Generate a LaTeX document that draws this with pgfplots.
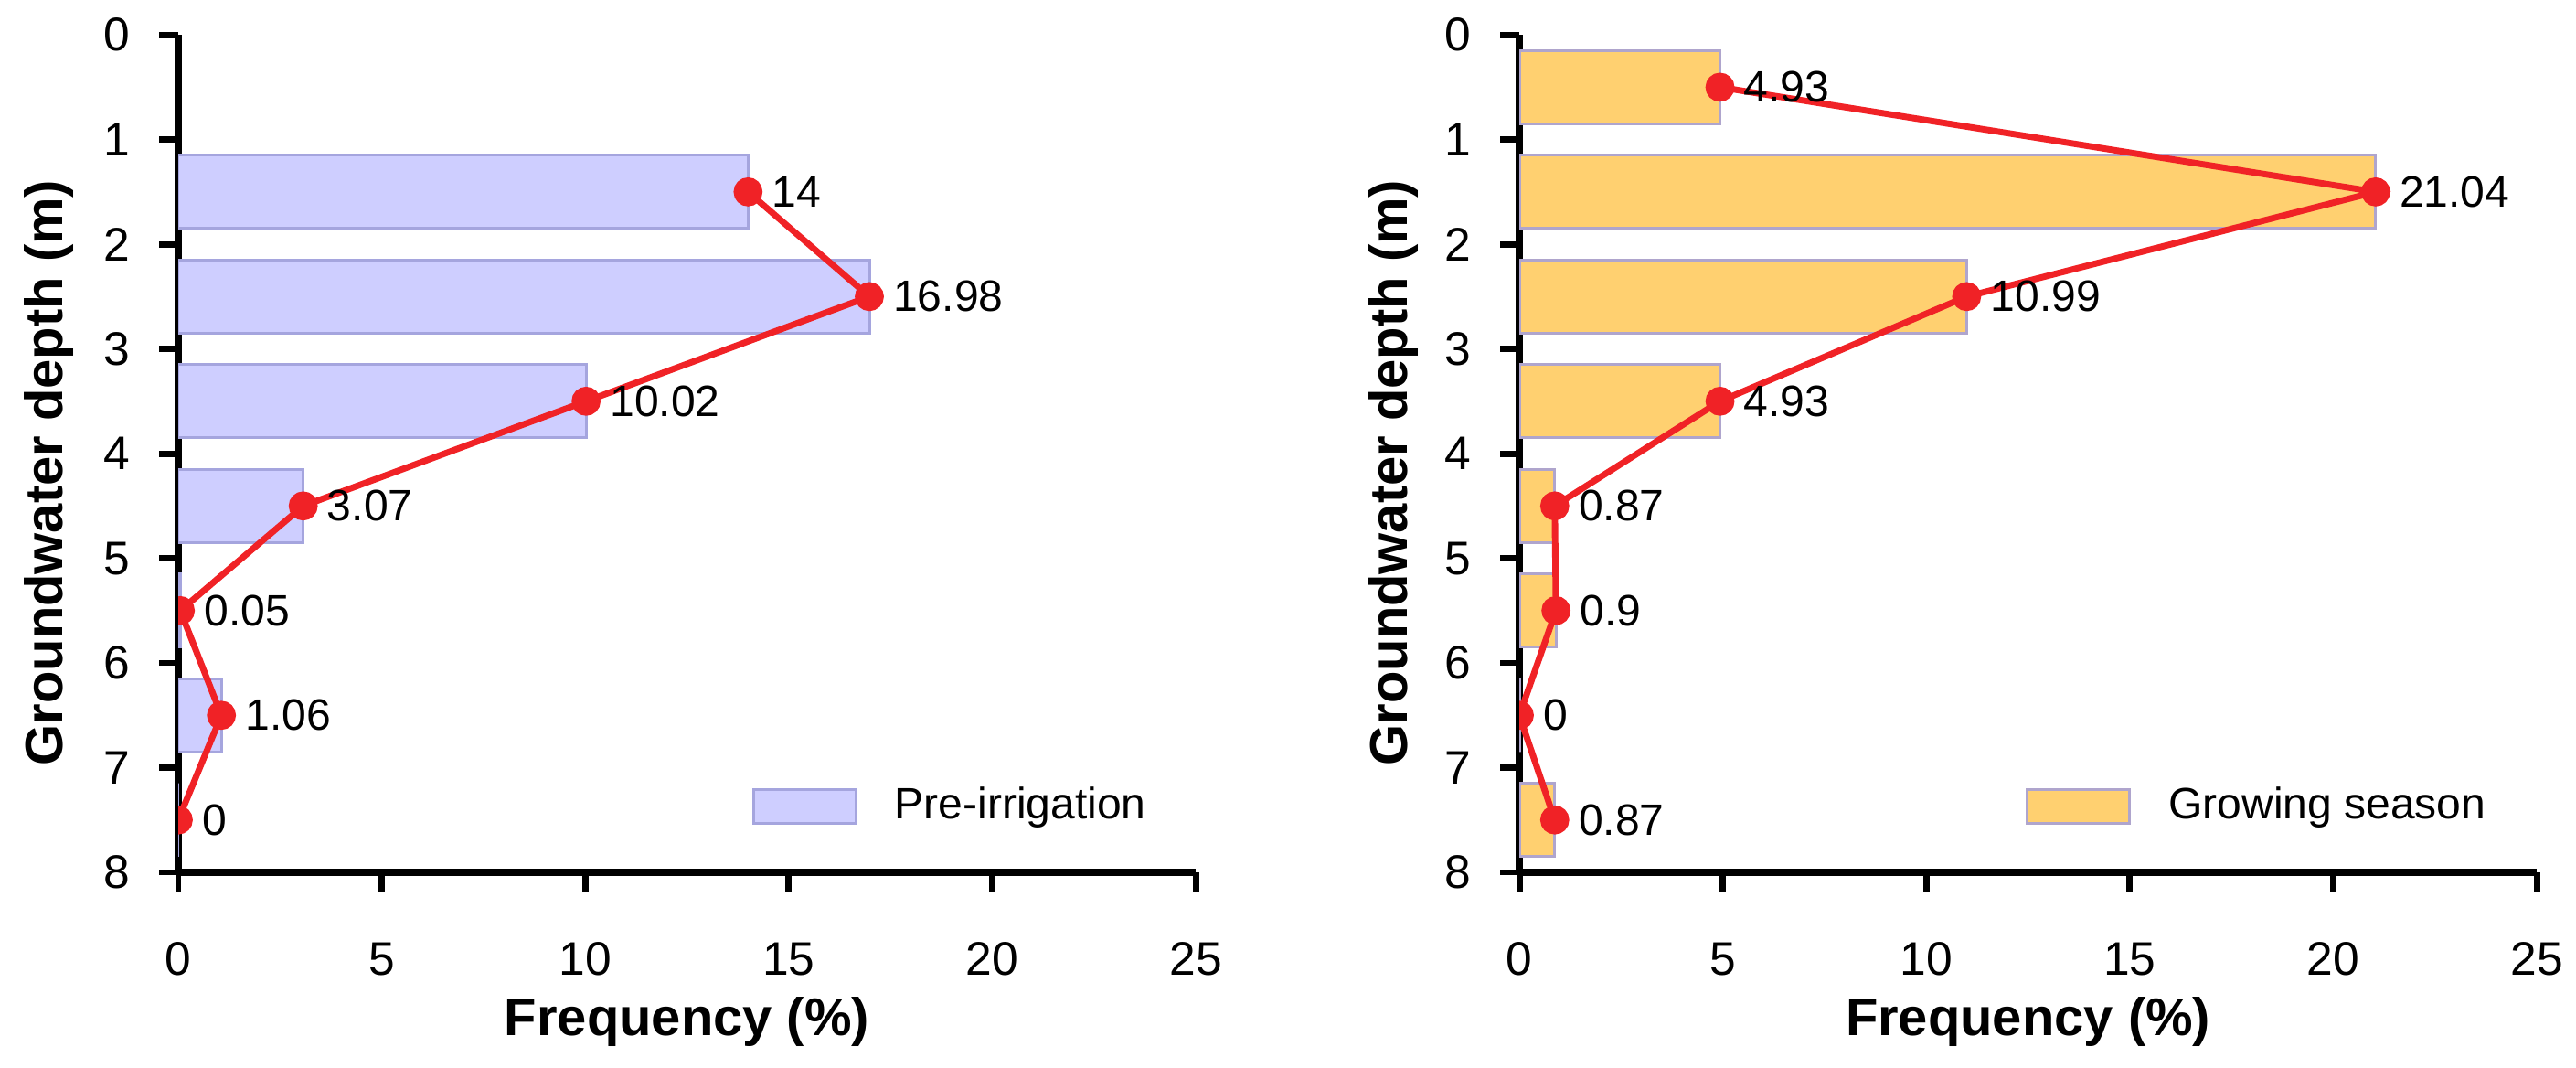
\documentclass[border=0pt]{standalone}
\usepackage{fontspec}
\setmainfont{Liberation Sans}
\usepackage{pgfplots}
\usepackage{pgfplotstable}
\pgfplotsset{compat=1.18}

\definecolor{preFill}{RGB}{206,206,255}
\definecolor{preEdge}{RGB}{165,165,222}
\definecolor{grwFill}{RGB}{255,208,112}
\definecolor{grwEdge}{RGB}{175,165,205}
\definecolor{lineRed}{RGB}{240,34,38}

% depth class centre (m) and frequency (%)
\pgfplotstableread{
d   v
1.5 14
2.5 16.98
3.5 10.02
4.5 3.07
5.5 0.05
6.5 1.06
7.5 0
}\preirr

\pgfplotstableread{
d   v
0.5 4.93
1.5 21.04
2.5 10.99
3.5 4.93
4.5 0.87
5.5 0.9
6.5 0
7.5 0.87
}\growing

\pgfplotsset{
  depthaxis/.style={
    scale only axis, width=7.90cm, height=6.50cm,
    xmin=0, xmax=25, ymin=0, ymax=8, y dir=reverse,
    axis x line=bottom, axis y line=left,
    axis line style={line width=1.6pt,-},
    xtick={0,5,...,25}, ytick={0,1,...,8},
    tick align=outside, major tick length=4.2pt,
    tick style={line width=1.4pt,black},
    /pgf/number format/assume math mode=true,
    ticklabel style={font=\fontsize{10.4}{12}\selectfont},
    xticklabel style={yshift=-7.8pt},
    yticklabel style={xshift=-3pt},
    xlabel={Frequency (\%)},
    ylabel={Groundwater depth (m)},
    label style={font=\bfseries\fontsize{11.7}{14}\selectfont},
    xlabel style={at={(axis description cs:0.5,-0.195)},anchor=base},
    ylabel style={at={(axis description cs:-0.127,0.477)},anchor=center},
    clip marker paths=true,
    legend style={draw=none, fill=none, inner sep=0pt, outer sep=0pt,
      font=\fontsize{9.7}{11.6}\selectfont,
      nodes={inner sep=0pt},
      /tikz/every odd column/.append style={column sep=0.29cm}},
    legend image code/.code={\draw[##1] (0cm,-0.13cm) rectangle (0.795cm,0.13cm);},
  },
  freqbars/.style={xbar, bar width=0.7, bar shift=0pt, line width=0.6pt},
  freqline/.style={lineRed, line width=1.4pt, mark=*, mark size=2.5pt,
    mark options={fill=lineRed, draw=lineRed},
    point meta=explicit symbolic, nodes near coords,
    nodes near coords style={anchor=west, inner sep=0pt, xshift=4.6pt,
      black, font=\fontsize{9.7}{11.6}\selectfont}},
}

\begin{document}
\begin{tikzpicture}
\useasboundingbox (0,0) rectangle (20cm,8.2896cm);

\begin{axis}[depthaxis, at={(1.384cm,1.519cm)}, anchor=south west,
  legend style={at={(axis description cs:0.564,0.0786)}, anchor=west}]
  \addplot[freqbars, fill=preFill, draw=preEdge] table[x=v, y=d] {\preirr};
  \addplot[freqline] table[x=v, y=d, meta=v] {\preirr};
  \legend{Pre-irrigation}
\end{axis}

\begin{axis}[depthaxis, at={(11.796cm,1.519cm)}, anchor=south west,
  ylabel style={at={(axis description cs:-0.124,0.477)}},
  legend style={at={(axis description cs:0.498,0.0786)}, anchor=west}]
  \addplot[freqbars, fill=grwFill, draw=grwEdge] table[x=v, y=d] {\growing};
  \addplot[freqline] table[x=v, y=d, meta=v] {\growing};
  \legend{Growing season}
\end{axis}
\end{tikzpicture}
\end{document}
